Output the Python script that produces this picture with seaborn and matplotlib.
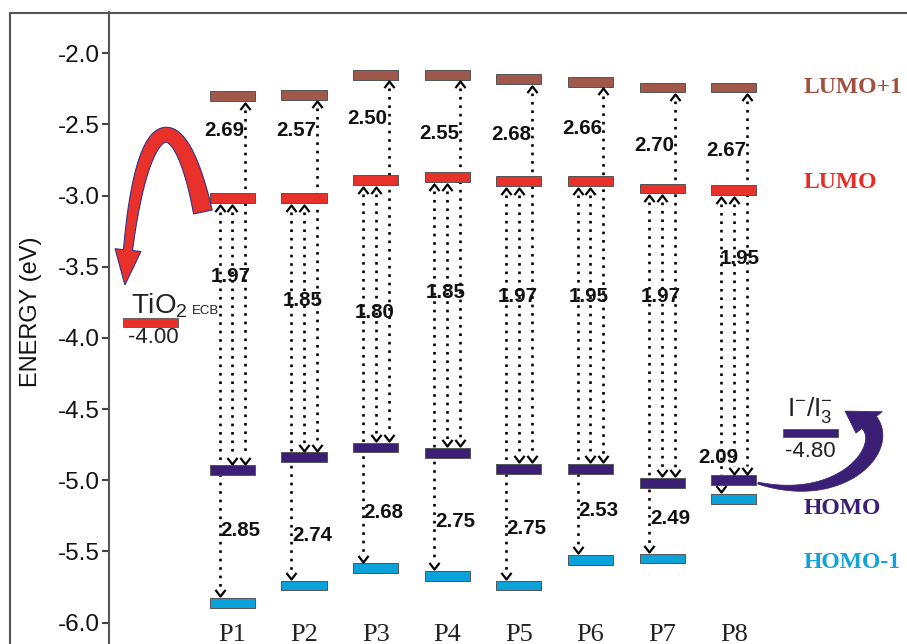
"""Energy level diagram of P1-P8 sensitizers vs TiO2 ECB and I-/I3- redox."""
import matplotlib
matplotlib.use("Agg")

import numpy as np
import pandas as pd
import seaborn as sns
from matplotlib import pyplot as plt
from matplotlib.lines import Line2D
from matplotlib.patches import Polygon
from matplotlib.path import Path
from matplotlib.transforms import IdentityTransform

# data
MOLECULES = ["P1", "P2", "P3", "P4", "P5", "P6", "P7", "P8"]
LUMO_PLUS1 = [-2.30, -2.29, -2.15, -2.15, -2.18, -2.20, -2.24, -2.24]
LUMO = [-3.02, -3.02, -2.89, -2.87, -2.90, -2.90, -2.95, -2.96]
HOMO = [-4.93, -4.84, -4.77, -4.81, -4.92, -4.92, -5.02, -5.00]
HOMO_MINUS1 = [-5.86, -5.74, -5.62, -5.67, -5.74, -5.56, -5.55, -5.13]

GAP_HOMO_LUMO = ["1.97", "1.85", "1.80", "1.85", "1.97", "1.95", "1.97", "1.95"]
GAP_HOMO_LUMO1 = ["2.69", "2.57", "2.50", "2.55", "2.68", "2.66", "2.70", "2.67"]
GAP_HOMO1_LUMO = ["2.85", "2.74", "2.68", "2.75", "2.75", "2.53", "2.49", "2.09"]

TIO2_ECB = -3.89
TIO2_LABEL = "-4.00"
REDOX = -4.67
REDOX_LABEL = "-4.80"

# where the gap numbers sit (layout, energy axis)
LABEL_Y_HL1 = [-2.54, -2.54, -2.46, -2.56, -2.57, -2.525, -2.65, -2.68]
LABEL_Y_HL = [-3.57, -3.74, -3.82, -3.68, -3.71, -3.71, -3.71, -3.445]
LABEL_Y_H1L = [-5.35, -5.39, -5.23, -5.29, -5.34, -5.21, -5.27, -4.84]

ORBITALS = ["LUMO+1", "LUMO", "HOMO", "HOMO-1"]
BAR_COLORS = {"LUMO+1": "#a0584a", "LUMO": "#e8312b", "HOMO": "#3b1f74", "HOMO-1": "#0aa2d9"}
TEXT_COLORS = {"LUMO+1": "#a0523e", "LUMO": "#e82b25", "HOMO": "#3b1f74", "HOMO-1": "#12a3d8"}

BAR_W = 0.63
BAR_H = 0.07
SIDE_W = 0.77
TIO2_X = -1.145
REDOX_X = 8.07

CHEV_UP = Path([(-1, -1.3), (0, 0), (1, -1.3)], [Path.MOVETO, Path.LINETO, Path.LINETO])
CHEV_DOWN = Path([(-1, 1.3), (0, 0), (1, 1.3)], [Path.MOVETO, Path.LINETO, Path.LINETO])


def transition(ax, x, upper, lower):
    """Dotted double-headed arrow between an upper and a lower level."""
    y_top = upper - BAR_H / 2 - 0.012
    y_bot = lower + BAR_H / 2 + 0.012
    ax.plot([x, x], [y_top - 0.05, y_bot + 0.05], color="black", lw=1.9,
            ls=(0, (1, 2.2)), zorder=2)
    ax.plot([x], [y_top], marker=CHEV_UP, ms=9.5, mfc="none", mec="black",
            mew=1.6, ls="none", zorder=4)
    ax.plot([x], [y_bot], marker=CHEV_DOWN, ms=9.5, mfc="none", mec="black",
            mew=1.6, ls="none", zorder=4)


def curved_arrow(ax, ctrl, w_start, w_end, head_len, head_w, face, edge, lw):
    """Tapered block arrow along a cubic curve; widths in pixels."""
    p = ax.transData.transform(np.asarray(ctrl, dtype=float))
    t = np.linspace(0, 1, 400)[:, None]
    pts = ((1 - t) ** 3) * p[0] + 3 * t * (1 - t) ** 2 * p[1] \
        + 3 * t ** 2 * (1 - t) * p[2] + t ** 3 * p[3]
    seg = np.hypot(*np.diff(pts, axis=0).T)
    s = np.concatenate([[0], np.cumsum(seg)])
    base = s[-1] - head_len
    keep = s <= base
    body, sb = pts[keep], s[keep]
    tang = np.gradient(body, axis=0)
    tang /= np.linalg.norm(tang, axis=1)[:, None]
    normal = np.column_stack([-tang[:, 1], tang[:, 0]])
    width = w_start + (w_end - w_start) * sb / base
    left = body + normal * width[:, None] / 2
    right = body - normal * width[:, None] / 2
    hb, hn = body[-1], normal[-1]
    head = [hb + hn * head_w / 2, pts[-1], hb - hn * head_w / 2]
    verts = np.vstack([left, head, right[::-1]])
    ax.add_patch(Polygon(verts, closed=True, transform=IdentityTransform(),
                         facecolor=face, edgecolor=edge, linewidth=lw,
                         zorder=5, clip_on=False))


def main() -> None:
    sns.set_theme(style="white")
    plt.rcParams["font.family"] = ["Liberation Sans", "DejaVu Sans"]
    plt.rcParams["mathtext.fontset"] = "custom"
    plt.rcParams["mathtext.rm"] = "Liberation Sans"
    plt.rcParams["mathtext.it"] = "Liberation Sans"

    levels = pd.DataFrame({
        "molecule": MOLECULES,
        "LUMO+1": LUMO_PLUS1,
        "LUMO": LUMO,
        "HOMO": HOMO,
        "HOMO-1": HOMO_MINUS1,
    })
    levels["x"] = np.arange(len(MOLECULES))
    long = levels.melt(id_vars=["molecule", "x"], value_vars=ORBITALS,
                       var_name="orbital", value_name="energy")

    fig = plt.figure(figsize=(9.07, 6.44), dpi=100)
    ax = fig.add_axes([108.5 / 907, 0, 1 - 108.5 / 907, 631.5 / 644])
    ax.set_xlim(-1.73, 9.42)
    ax.set_ylim(-6.151, -1.713)

    # transitions first, bars drawn on top
    for _, row in levels.iterrows():
        x = row["x"]
        transition(ax, x - 0.18, row["LUMO"], row["HOMO-1"])
        transition(ax, x, row["LUMO"], row["HOMO"])
        transition(ax, x + 0.18, row["LUMO+1"], row["HOMO"])

    for orb in ORBITALS:
        grp = long[long["orbital"] == orb]
        ax.bar(grp["x"], BAR_H, bottom=grp["energy"] - BAR_H / 2, width=BAR_W,
               color=BAR_COLORS[orb], edgecolor="#555555", linewidth=0.7, zorder=3)

    # gap labels
    num_kw = dict(fontsize=14.8, fontweight="bold", color="#111111", zorder=6)
    for i, row in levels.iterrows():
        x = row["x"]
        ax.text(x - 0.11, LABEL_Y_HL1[i], GAP_HOMO_LUMO1[i], ha="center", va="center", **num_kw)
        hl_dx = 0.09 if i == len(MOLECULES) - 1 else -0.02
        ax.text(x + hl_dx, LABEL_Y_HL[i], GAP_HOMO_LUMO[i], ha="center", va="center", **num_kw)
        if row["HOMO"] - row["HOMO-1"] > 0.3:
            ax.text(x - 0.17, LABEL_Y_H1L[i], GAP_HOMO1_LUMO[i], ha="left", va="center", **num_kw)
        else:
            ax.text(x - 0.22, LABEL_Y_H1L[i], GAP_HOMO1_LUMO[i], ha="center", va="center", **num_kw)
        ax.text(x, -6.01, row["molecule"], ha="center", va="top", fontsize=19,
                family=["Liberation Serif", "DejaVu Serif"], color="#222222",
                clip_on=False)

    # orbital names on the right
    for orb in ORBITALS:
        y = levels[orb].iloc[-1]
        y_text = {"LUMO+1": y, "LUMO": y + 0.05, "HOMO": y - 0.2, "HOMO-1": y - 0.45}[orb]
        ax.text(7.98, y_text, orb, ha="left", va="center", fontsize=17,
                fontweight="bold", family=["Liberation Serif", "DejaVu Serif"],
                color=TEXT_COLORS[orb])

    # TiO2 conduction band
    ax.bar([TIO2_X], BAR_H * 0.9, bottom=TIO2_ECB - BAR_H * 0.45, width=SIDE_W,
           color=BAR_COLORS["LUMO"], edgecolor="#555555", linewidth=0.6, zorder=3)
    ax.text(TIO2_X - 0.27, TIO2_ECB + 0.065, r"TiO$_2$", ha="left", va="baseline",
            fontsize=20, color="#222222")
    ax.text(TIO2_X + 0.58, TIO2_ECB + 0.06, "ECB", ha="left", va="baseline",
            fontsize=9.5, color="#222222")
    ax.text(TIO2_X + 0.04, TIO2_ECB - 0.108, TIO2_LABEL, ha="center", va="center",
            fontsize=16, color="#222222")

    # redox couple
    ax.bar([REDOX_X], BAR_H * 0.85, bottom=REDOX - BAR_H * 0.425, width=SIDE_W,
           color=BAR_COLORS["HOMO"], edgecolor="#555555", linewidth=0.6, zorder=3)
    ax.text(REDOX_X, REDOX + 0.055, r"I$^{-}$/I$_3^{-}$", ha="center", va="bottom",
            fontsize=19, color="#222222")
    ax.text(REDOX_X, REDOX - 0.127, REDOX_LABEL, ha="center", va="center",
            fontsize=16, color="#222222")

    # electron injection arrow (P1 LUMO -> TiO2)
    curved_arrow(
        ax,
        [(-0.412, LUMO[0] - 0.095), (-0.761, LUMO[0] + 0.747),
         (-1.32, LUMO[0] + 0.635), (TIO2_X - 0.356, TIO2_ECB + 0.262)],
        w_start=19, w_end=9, head_len=34, head_w=26,
        face=BAR_COLORS["LUMO"], edge="#33338a", lw=0.8,
    )

    # dye regeneration arrow (P8 HOMO -> redox couple)
    curved_arrow(
        ax,
        [(7 + 0.339, HOMO[7] - 0.02), (7 + 1.764, HOMO[7] - 0.209),
         (7 + 2.462, HOMO[7] + 0.423), (REDOX_X + 0.484, REDOX + 0.156)],
        w_start=2, w_end=19, head_len=27, head_w=34,
        face=BAR_COLORS["HOMO"], edge=BAR_COLORS["HOMO"], lw=0.5,
    )

    # axes styling
    ax.set_xticks([])
    yticks = np.arange(-6.0, -1.9, 0.5)
    ax.set_yticks(yticks)
    ax.set_yticklabels([f"{v:.1f}" for v in yticks], fontsize=17.5, color="#111111")
    ax.tick_params(axis="y", direction="out", length=5, width=1.5, color="#444444",
                   pad=1, left=True)
    for side in ["top", "right", "bottom"]:
        ax.spines[side].set_visible(False)
    ax.spines["left"].set_color("#555555")
    ax.spines["left"].set_linewidth(1.5)
    ax.set_facecolor("white")

    fig.text(31 / 907, 1 - 312 / 644, "ENERGY (eV)", rotation=90, ha="center",
             va="center", fontsize=17, color="#111111")

    # outer frame
    top = 1 - 12.5 / 644
    fig.add_artist(Line2D([9.5 / 907, 9.5 / 907], [0, top], transform=fig.transFigure,
                          color="#555555", lw=1.5))
    fig.add_artist(Line2D([9.5 / 907, 1], [top, top], transform=fig.transFigure,
                          color="#555555", lw=1.5))

    fig.savefig("out.png", dpi=100, facecolor="white")
    plt.close(fig)


if __name__ == "__main__":
    main()
